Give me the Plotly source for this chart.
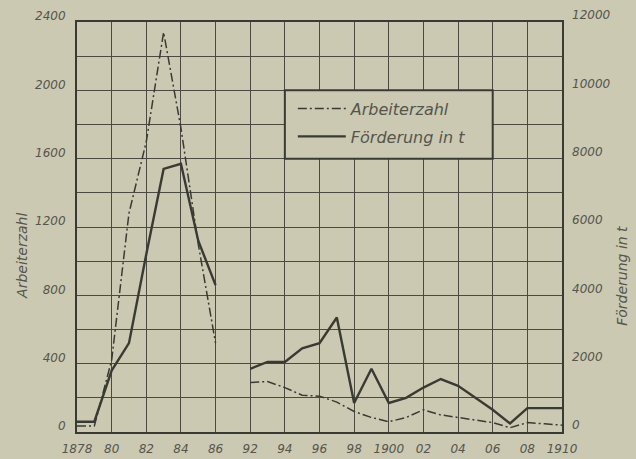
import plotly.graph_objects as go

# ---- data ----
years_a = [1878, 1879, 1880, 1881, 1882, 1883, 1884, 1885, 1886]
arbeiter_a = [35, 35, 420, 1280, 1700, 2340, 1780, 1100, 520]
foerderung_a = [300, 300, 1800, 2600, 5200, 7700, 7850, 5600, 4300]

years_b = [1892, 1893, 1894, 1895, 1896, 1897, 1898, 1899, 1900, 1901,
           1902, 1903, 1904, 1905, 1906, 1907, 1908, 1909, 1910]
arbeiter_b = [290, 295, 260, 215, 210, 175, 120, 85, 60, 85,
              130, 100, 85, 70, 55, 25, 55, 48, 40]
foerderung_b = [1850, 2050, 2050, 2450, 2600, 3350, 850, 1850, 850, 1000,
                1300, 1550, 1350, 1000, 650, 250, 700, 700, 700]

tick_years = [1878, 1880, 1882, 1884, 1886, 1892, 1894, 1896, 1898, 1900,
              1902, 1904, 1906, 1908, 1910]
tick_text = ["1878", "80", "82", "84", "86", "92", "94", "96", "98", "1900",
             "02", "04", "06", "08", "1910"]

left_ticks = [0, 400, 800, 1200, 1600, 2000, 2400]
right_ticks = [0, 2000, 4000, 6000, 8000, 10000, 12000]


def xpos(y):
    # broken time axis: 1886 -> 1892 occupies one grid interval
    return (y - 1878) / 2 if y <= 1886 else 5 + (y - 1892) / 2


x_all = [xpos(y) for y in years_a] + [None] + [xpos(y) for y in years_b]
arb_all = arbeiter_a + [None] + arbeiter_b
foe_all = foerderung_a + [None] + foerderung_b

PAPER = "#cbc9b2"
INK = "#3a3a34"
TXT = "#55554c"
FONT = "DejaVu Sans"

fig = go.Figure()
fig.add_trace(go.Scatter(
    x=x_all, y=arb_all, mode="lines", name="Arbeiterzahl",
    line=dict(color=INK, width=1.5, dash="9px,3px,2px,3px"),
    connectgaps=False, legendgroup="a"))
fig.add_trace(go.Scatter(
    x=x_all, y=foe_all, mode="lines", name="Förderung in t", yaxis="y2",
    line=dict(color=INK, width=2.4), connectgaps=False, legendgroup="b"))

tv = [xpos(y) for y in tick_years]
left_all = list(range(0, 2401, 200))
left_txt = [str(v) if v in left_ticks else "" for v in left_all]

fig.update_layout(
    width=636, height=459,
    margin=dict(l=77, r=74, t=22, b=27, autoexpand=False),
    paper_bgcolor=PAPER, plot_bgcolor=PAPER,
    font=dict(family=FONT, color=TXT, size=13, style="italic"),
    xaxis=dict(range=[0, 14], tickvals=tv, ticktext=tick_text,
               showgrid=True, gridcolor="#4a4a42", gridwidth=1.3,
               zeroline=False, showline=True, linecolor=INK, linewidth=2,
               mirror=True, ticks="", ticklabelstandoff=5, automargin=False,
               tickfont=dict(size=12, style="italic", color=TXT)),
    yaxis=dict(range=[0, 2400], tickvals=left_all, ticktext=left_txt,
               showgrid=True, gridcolor="#4a4a42", gridwidth=1.3,
               zeroline=False, showline=True, linecolor=INK, linewidth=2,
               mirror=True, ticks="", ticklabelstandoff=7, ticklabelshift=-6,
               automargin=False,
               tickfont=dict(size=12, style="italic", color=TXT)),
    yaxis2=dict(range=[0, 12000], overlaying="y", side="right",
                tickvals=right_ticks, ticktext=[str(v) for v in right_ticks],
                showgrid=False, zeroline=False, ticks="",
                ticklabelstandoff=9, ticklabelshift=-7, automargin=False,
                tickfont=dict(size=12, style="italic", color=TXT)),
    showlegend=True,
    legend=dict(x=0.445, y=0.83, xanchor="left", yanchor="top",
                bgcolor="rgba(0,0,0,0)", borderwidth=0,
                itemwidth=48, tracegroupgap=4,
                font=dict(size=16, style="italic", color=TXT)),
)

# legend frame, covering the grid cells behind it
fig.add_shape(type="rect", xref="x", yref="y",
              x0=xpos(1894), x1=xpos(1906), y0=1600, y1=2000,
              fillcolor=PAPER, line=dict(color=INK, width=2), layer="above")

fig.add_annotation(text="Arbeiterzahl", textangle=-90, xref="paper", yref="paper",
                   x=-0.113, y=0.43, showarrow=False, xanchor="center", yanchor="middle",
                   font=dict(size=14, style="italic", color=TXT))
fig.add_annotation(text="Förderung in t", textangle=-90, xref="paper", yref="paper",
                   x=1.125, y=0.38, showarrow=False, xanchor="center", yanchor="middle",
                   font=dict(size=14, style="italic", color=TXT))

fig.write_html("out.html", config={"displayModeBar": False},
               post_script="document.body.style.margin='0';"
                           "document.body.style.background='" + PAPER + "';")
